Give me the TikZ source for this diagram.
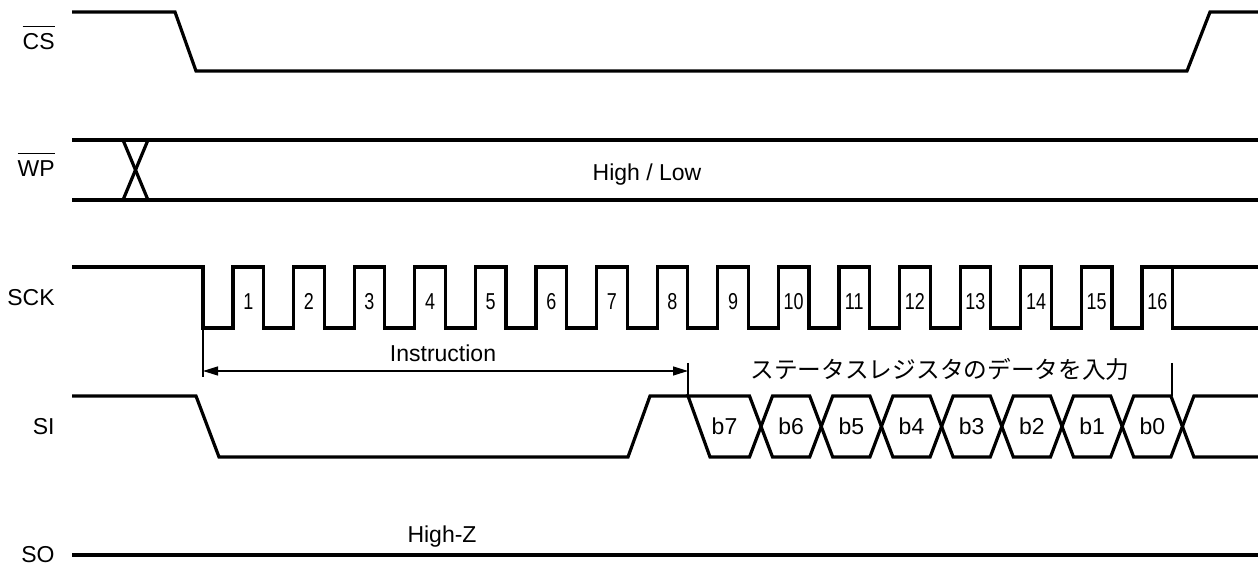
\documentclass[tikz,border=0pt]{standalone}
\usepackage{fontspec}
\usepackage{graphicx}
\setmainfont{Liberation Sans}
\newfontfamily\jpfont{Noto Sans CJK JP}
\usetikzlibrary{arrows.meta}

\newcommand{\barlabel}[1]{$\overline{\mbox{\raisebox{0pt}[10.5pt][0pt]{#1}}}$}

\begin{document}
\begin{tikzpicture}[x=0.5pt,y=-0.5pt,font=\fontsize{11.5}{13.8}\selectfont,
    sig/.style={line width=1.6pt},
    guide/.style={line width=0.65pt},
    lbl/.style={anchor=base east,inner sep=0pt},
    txt/.style={anchor=base,inner sep=0pt}]
    \useasboundingbox (0,0) rectangle (1258,565);

    % Signal names
    \node[lbl] (cs) at (55,50) {\barlabel{CS}};
    \node[lbl] (wp) at (55,177) {\barlabel{WP}};
    \node[lbl] (sck) at (55,306) {SCK};
    \node[lbl] (si) at (55,435) {SI};
    \node[lbl] (so) at (55,563) {SO};

    % CS
    \draw[sig] (72,12) -- (175,12) -- (196,71) -- (1187,71) -- (1210,12) -- (1258,12);

    % WP: high or low
    \draw[sig] (72,140) -- (1258,140);
    \draw[sig] (72,200) -- (1258,200);
    \draw[sig] (123,140) -- (148,200);
    \draw[sig] (123,200) -- (148,140);
    \node[txt] (wplevel) at (647,181) {High / Low};

    % SCK
    \draw[sig] (72,267) -- (203,267) -- (203,328)
        foreach \k in {0,...,15} {
            -- ({233+60.6*\k},328) -- ({233+60.6*\k},267)
            -- ({263.5+60.6*\k},267) -- ({263.5+60.6*\k},328)
        } -- (1258,328);
    \draw[sig] (1172,267) -- (1258,267);
    \foreach \k in {1,...,16}
        \node[txt] (clk\k) at ({248.25+60.6*(\k-1)},310) {\scalebox{0.78}[1]{\k}};

    % Instruction span
    \coordinate (instL) at (203,371);
    \coordinate (instR) at (688,371);
    \draw[guide] (203,328) -- (203,377);
    \draw[guide] (688,363) -- (688,396);
    \draw[guide] (1172,363) -- (1172,396);
    \draw[guide,{Triangle[length=7.5pt,width=4.5pt]}-{Triangle[length=7.5pt,width=4.5pt]}] (instL) -- (instR);
    \node[txt] (instr) at (443,362) {Instruction};
    \node (datain) at (940,369) {\fontsize{11.85}{14}\selectfont\jpfont ステータスレジスタのデータを入力};

    % SI
    \draw[sig] (72,396) -- (196,396) -- (219,457) -- (628,457) -- (650,396) -- (688,396);
    \draw[sig] (688,396) -- (749.5,396) -- (761,426.5) -- (749.5,457) -- (710,457) -- cycle;
    \node[txt] (b7) at (724.5,435) {b7};
    \foreach \b [count=\j] in {6,5,4,3,2,1,0} {
        \draw[sig] ({761+60.2*(\j-1)},426.5) -- ({772.5+60.2*(\j-1)},396)
            -- ({749.5+60.2*\j},396) -- ({761+60.2*\j},426.5)
            -- ({749.5+60.2*\j},457) -- ({772.5+60.2*(\j-1)},457) -- cycle;
        \node[txt] (b\b) at ({791.1+60.2*(\j-1)},435) {b\b};
    }
    \draw[sig] (1182.4,426.5) -- (1193.9,396) -- (1258,396);
    \draw[sig] (1182.4,426.5) -- (1193.9,457) -- (1258,457);

    % SO
    \draw[sig] (72,555) -- (1258,555);
    \node[txt] (hiz) at (442,543) {High-Z};
\end{tikzpicture}
\end{document}
